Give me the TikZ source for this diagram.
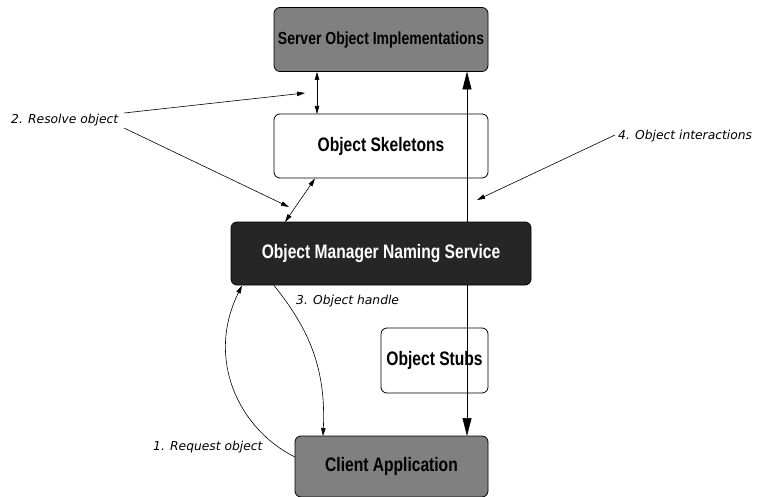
\documentclass[tikz,border=0pt]{standalone}
\usepackage{fontspec}
\setmainfont{Liberation Sans}
\newfontfamily\boxfont[FakeStretch=0.8]{Liberation Sans}
\newfontfamily\labfont{DejaVu Sans}
\usetikzlibrary{arrows.meta}
\definecolor{midgray}{HTML}{808080}
\definecolor{darkbox}{HTML}{262626}
\tikzset{
  box/.style={draw=black, line width=0.8pt, rounded corners=6pt, inner sep=0pt,
    font=\boxfont\bfseries\fontsize{19.5}{22}\selectfont},
  smalltext/.style={font=\boxfont\bfseries\fontsize{17.5}{20}\selectfont},
  lab/.style={font=\labfont\itshape\fontsize{12.3}{14}\selectfont, inner sep=0pt},
  conn/.style={line width=0.6pt},
  small/.style={-{Triangle[length=8pt,width=4.5pt]}},
  smalltwo/.style={{Triangle[length=8pt,width=4.5pt]}-{Triangle[length=8pt,width=4.5pt]}},
  bigtwo/.style={{Triangle[length=18pt,width=9pt]}-{Triangle[length=18pt,width=9pt]}},
}
\begin{document}
\begin{tikzpicture}[x=1pt,y=-1pt]
\useasboundingbox (0,0) rectangle (759,497);
% boxes
\node[box, smalltext, fill=midgray, minimum width=214pt, minimum height=64pt] (srv) at (381,39.5) {Server Object Implementations};
\node[box, fill=white, minimum width=214pt, minimum height=64pt] (skel) at (381,146) {Object Skeletons};
\node[box, fill=white, minimum width=107pt, minimum height=65pt] (stub) at (434.5,360.5) {Object Stubs};
\node[box, fill=midgray, minimum width=193pt, minimum height=61pt] (cli) at (391.5,466.5) {Client Application};
% long double arrow (behind naming box)
\coordinate (vt) at (467,71.5);
\coordinate (vb) at (467,436);
\draw[conn, bigtwo] (vb) -- (vt);
\node[box, fill=darkbox, text=white, minimum width=300pt, minimum height=63pt] (nms) at (381,253.5) {Object Manager Naming Service};
% labels
\node[lab, anchor=west] (l2) at (11,120) {2. Resolve object};
\node[lab, anchor=west] (l4) at (618,136) {4. Object interactions};
\node[lab, anchor=west] (l3) at (296,301) {3. Object handle};
\node[lab, anchor=west] (l1) at (153,447) {1. Request object};
% connectors
\draw[conn, smalltwo] (317,72) -- (317,114);
\draw[conn, smalltwo] (315,178.5) -- (285,222);
\draw[conn, small] (124,113) -- (305,93);
\draw[conn, small] (124,128) -- (289,207);
\draw[conn, small] (615,135) -- (477,200);
\coordinate (c1s) at (295,457);
\coordinate (c1e) at (242,285.5);
\draw[conn, small] (c1s) .. controls (240,430) and (205,360) .. (c1e);
\coordinate (c2s) at (274,285.5);
\coordinate (c2e) at (323,436);
\draw[conn, small] (c2s) .. controls (310,330) and (326,370) .. (c2e);
\end{tikzpicture}
\end{document}
